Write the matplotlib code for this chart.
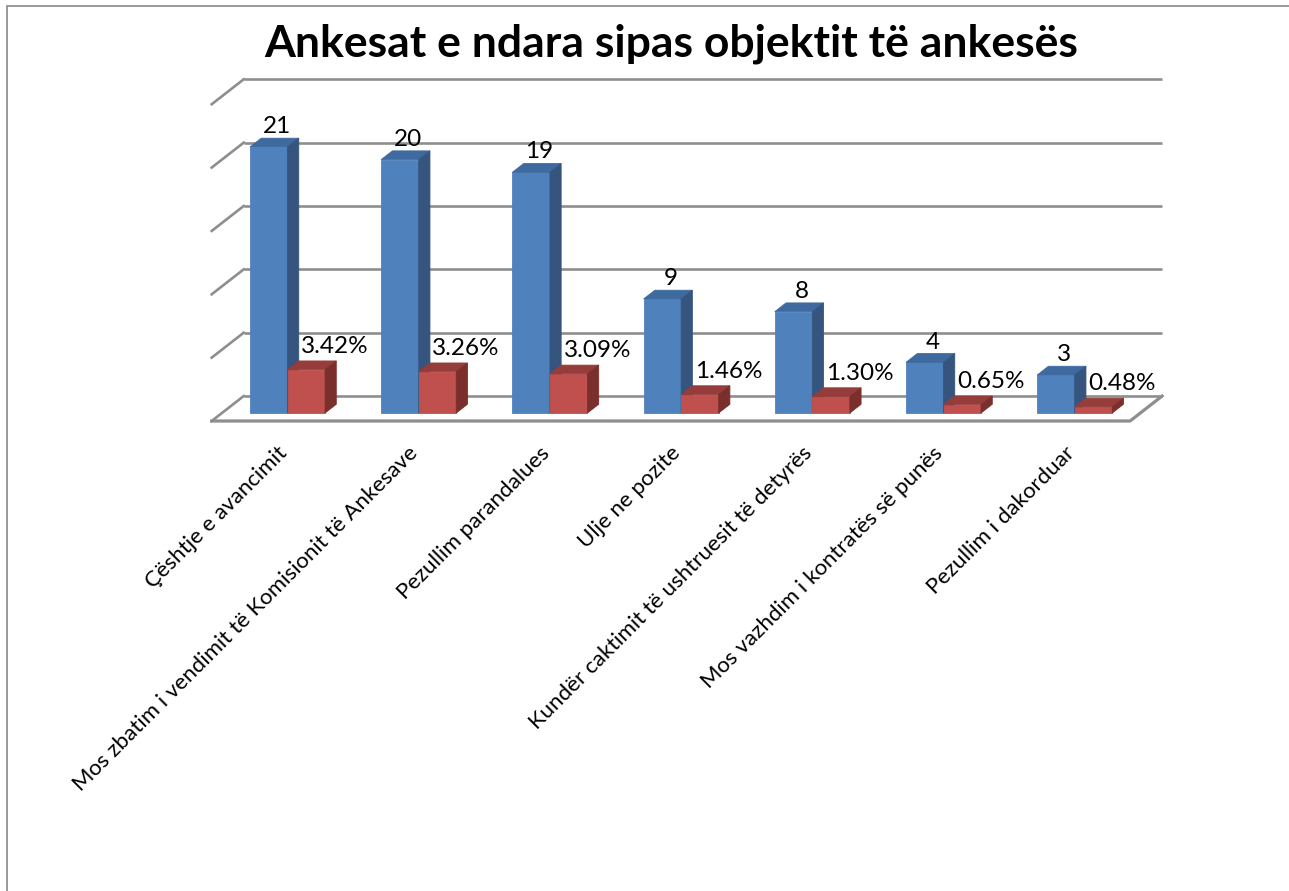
import numpy as np
import matplotlib.pyplot as plt
from matplotlib.patches import Rectangle

categories = [
    'Çështje e avancimit',
    'Mos zbatim i vendimit të Komisionit të Ankesave',
    'Pezullim parandalues',
    'Ulje ne pozite',
    'Kundër caktimit të ushtruesit të detyrës',
    'Mos vazhdim i kontratës së punës',
    'Pezullim i dakorduar',
]
counts = [21, 20, 19, 9, 8, 4, 3]
percents = [3.42, 3.26, 3.09, 1.46, 1.30, 0.65, 0.48]
grid_values = [0, 5, 10, 15, 20, 25]

# oblique "3d" look: depth d in [0, 1] shifts points right and up
DX = 0.244   # category units
DY = 1.97    # value units
D0, D1 = 0.32, 0.67   # depth occupied by the bars
BAR_W = 0.286

BLUE = ('#4f81bd', '#3f6a9f', '#35557f')   # front, top, side
RED = ('#c0504d', '#963c3a', '#7b2f2d')
GRID = '#8e8e8e'


def proj(x, v, d):
    return x + d * DX, v + d * DY


def face(ax, pts, color, z):
    xs, ys = zip(*[proj(*p) for p in pts])
    ax.fill(xs, ys, color=color, lw=0.6, ec=color, zorder=z)


def draw_bar(ax, x0, x1, v, colors, z):
    front, top, side = colors
    face(ax, [(x0, 0, D0), (x1, 0, D0), (x1, v, D0), (x0, v, D0)], front, z)
    face(ax, [(x0, v, D0), (x1, v, D0), (x1, v, D1), (x0, v, D1)], top, z)
    face(ax, [(x1, 0, D0), (x1, 0, D1), (x1, v, D1), (x1, v, D0)], side, z)


fig = plt.figure(figsize=(12.89, 8.91), dpi=100)
ax = fig.add_axes([0, 0, 1, 1])
# pixel anchors of the floor front-left corner and scales
px_x0, px_per_cat = 211.7, 131.2
px_y0, px_per_val = 421.0, 12.67
ax.set_xlim(-px_x0 / px_per_cat, (1289 - px_x0) / px_per_cat)
ax.set_ylim(-(891 - px_y0) / px_per_val, px_y0 / px_per_val)
ax.axis('off')

n = len(categories)

# walls: back gridlines and left side lines
for g in grid_values:
    xa, ya = proj(0, g, 1)
    xb, yb = proj(n, g, 1)
    ax.plot([xa, xb], [ya, yb], color=GRID, lw=1.9, zorder=1, solid_capstyle='butt')
    xc, yc = proj(0, g, 0)
    ax.plot([xc, xa], [yc, ya], color=GRID, lw=1.9, zorder=1)

# floor outline
fl = [proj(0, 0, 0), proj(n, 0, 0), proj(n, 0, 1)]
ax.plot([p[0] for p in fl], [p[1] for p in fl], color=GRID, lw=2.3, zorder=1)

for i in range(n):
    xb0 = i + 0.5 - BAR_W
    draw_bar(ax, xb0, i + 0.5, counts[i], BLUE, 3 + 2 * i)
    draw_bar(ax, i + 0.5, i + 0.5 + BAR_W, percents[i], RED, 4 + 2 * i)

    bx, by = proj(i + 0.5 - BAR_W / 2, counts[i], (D0 + D1) / 2)
    ax.text(bx + 0.02, by + 1.26, str(counts[i]), ha='center', va='center',
            fontsize=17.5, family='Lato', zorder=30)
    rx, ry = proj(i + 0.5 + BAR_W / 2, percents[i], (D0 + D1) / 2)
    ax.text(rx + 0.175, ry + 1.5, f'{percents[i]:.2f}%', ha='center', va='center',
            fontsize=17.5, family='Lato', zorder=30)

    ax.text(i + 0.55, -2.3, categories[i], rotation=45, rotation_mode='anchor',
            ha='right', va='center', fontsize=16, family='Lato')

fig.text(0.521, 0.951, 'Ankesat e ndara sipas objektit të ankesës', ha='center',
         va='center', fontsize=32, fontweight='bold', family='Lato')

# chart frame (only top and left edges are inside the picture)
fig.patches.append(Rectangle((7 / 1289, -0.1), 1.2, 1.1 - 6 / 891,
                             transform=fig.transFigure, fill=False,
                             ec='#878787', lw=1.2))

fig.savefig('out.png', dpi=100)
